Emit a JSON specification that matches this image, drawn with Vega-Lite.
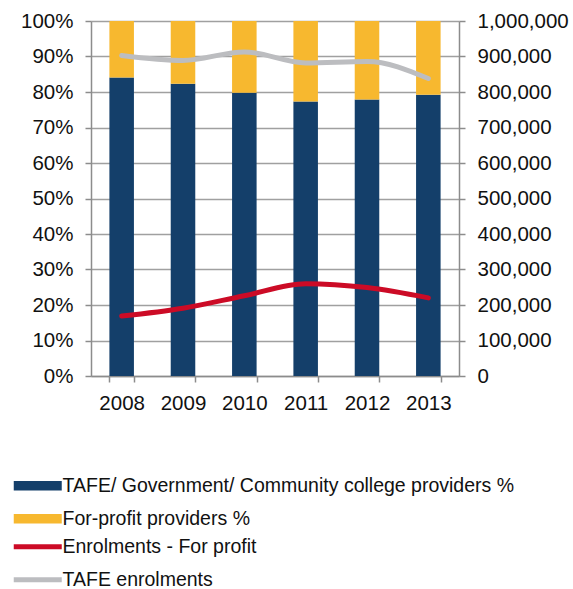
{
  "$schema": "https://vega.github.io/schema/vega-lite/v6.json",
  "autosize": {"type": "none"},
  "width": 368,
  "height": 355,
  "padding": {"left": 91, "top": 21, "right": 114, "bottom": 213},
  "background": "white",
  "config": {
    "font": "Liberation Sans",
    "view": {"stroke": null},
    "axis": {
      "labelFont": "Liberation Sans",
      "labelFontSize": 20.5,
      "labelColor": "#111111",
      "labelOverlap": false,
      "domainColor": "#8c8c8c",
      "domainWidth": 1.5,
      "tickColor": "#8c8c8c",
      "tickWidth": 1.5,
      "tickSize": 6,
      "gridColor": "#a0a0a0",
      "gridWidth": 1.5,
      "labelPadding": 12,
      "title": null
    },
    "legend": {
      "labelFont": "Liberation Sans",
      "labelFontSize": 19.5,
      "labelColor": "#111111",
      "labelLimit": 600,
      "title": null,
      "orient": "none"
    }
  },
  "data": {
    "values": [
      {"Year": "2008", "Series": "TAFE/ Government/ Community college providers %", "Share": 0.841},
      {"Year": "2008", "Series": "For-profit providers %", "Share": 0.159},
      {"Year": "2009", "Series": "TAFE/ Government/ Community college providers %", "Share": 0.823},
      {"Year": "2009", "Series": "For-profit providers %", "Share": 0.177},
      {"Year": "2010", "Series": "TAFE/ Government/ Community college providers %", "Share": 0.798},
      {"Year": "2010", "Series": "For-profit providers %", "Share": 0.202},
      {"Year": "2011", "Series": "TAFE/ Government/ Community college providers %", "Share": 0.773},
      {"Year": "2011", "Series": "For-profit providers %", "Share": 0.227},
      {"Year": "2012", "Series": "TAFE/ Government/ Community college providers %", "Share": 0.779},
      {"Year": "2012", "Series": "For-profit providers %", "Share": 0.221},
      {"Year": "2013", "Series": "TAFE/ Government/ Community college providers %", "Share": 0.792},
      {"Year": "2013", "Series": "For-profit providers %", "Share": 0.208},
      {"Year": "2008", "Line": "Enrolments - For profit", "Enrolments": 169000},
      {"Year": "2009", "Line": "Enrolments - For profit", "Enrolments": 191000},
      {"Year": "2010", "Line": "Enrolments - For profit", "Enrolments": 226000},
      {"Year": "2011", "Line": "Enrolments - For profit", "Enrolments": 260000},
      {"Year": "2012", "Line": "Enrolments - For profit", "Enrolments": 249000},
      {"Year": "2013", "Line": "Enrolments - For profit", "Enrolments": 220000},
      {"Year": "2008", "Line": "TAFE enrolments", "Enrolments": 903000},
      {"Year": "2009", "Line": "TAFE enrolments", "Enrolments": 889000},
      {"Year": "2010", "Line": "TAFE enrolments", "Enrolments": 913000},
      {"Year": "2011", "Line": "TAFE enrolments", "Enrolments": 882000},
      {"Year": "2012", "Line": "TAFE enrolments", "Enrolments": 886000},
      {"Year": "2013", "Line": "TAFE enrolments", "Enrolments": 838000}
    ]
  },
  "encoding": {
    "x": {
      "field": "Year",
      "type": "ordinal",
      "scale": {"paddingInner": 0.6, "paddingOuter": 0.3},
      "axis": {"labelAngle": 0, "tickBand": "extent", "grid": false, "labelPadding": 11}
    }
  },
  "layer": [
    {
      "transform": [{"filter": "isValid(datum.Share)"}],
      "mark": {"type": "bar"},
      "encoding": {
        "y": {
          "field": "Share",
          "type": "quantitative",
          "stack": "zero",
          "scale": {"domain": [0, 1]},
          "axis": {"format": ".0%", "values": [0,0.1,0.2,0.3,0.4,0.5,0.6,0.7,0.8,0.9,1], "grid": true, "orient": "left"}
        },
        "fill": {
          "field": "Series",
          "type": "nominal",
          "scale": {
            "domain": ["TAFE/ Government/ Community college providers %", "For-profit providers %"],
            "range": ["#143f6a", "#f7b82f"]
          },
          "legend": {
            "legendX": -63,
            "legendY": 455,
            "symbolType": "M-4,-0.8H4V0.8H-4Z",
            "symbolSize": 144,
            "symbolStrokeWidth": 0,
            "labelOffset": 15,
            "rowPadding": 12
          }
        },
        "order": {"field": "Series", "sort": "descending"}
      }
    },
    {
      "transform": [{"filter": "isValid(datum.Enrolments)"}],
      "mark": {"type": "line", "interpolate": "monotone", "strokeWidth": 5, "strokeCap": "round"},
      "encoding": {
        "y": {
          "field": "Enrolments",
          "type": "quantitative",
          "scale": {"domain": [0, 1000000]},
          "axis": {"format": ",d", "values": [0,100000,200000,300000,400000,500000,600000,700000,800000,900000,1000000], "grid": false, "orient": "right"}
        },
        "stroke": {
          "field": "Line",
          "type": "nominal",
          "scale": {
            "domain": ["Enrolments - For profit", "TAFE enrolments"],
            "range": ["#cc0b26", "#bcbdc0"]
          },
          "legend": {
            "legendX": -63,
            "legendY": 516,
            "symbolType": "M-4,0H4",
            "symbolSize": 144,
            "symbolStrokeWidth": 5,
            "labelOffset": 15,
            "rowPadding": 12
          }
        }
      }
    }
  ],
  "resolve": {"scale": {"y": "independent"}}
}
